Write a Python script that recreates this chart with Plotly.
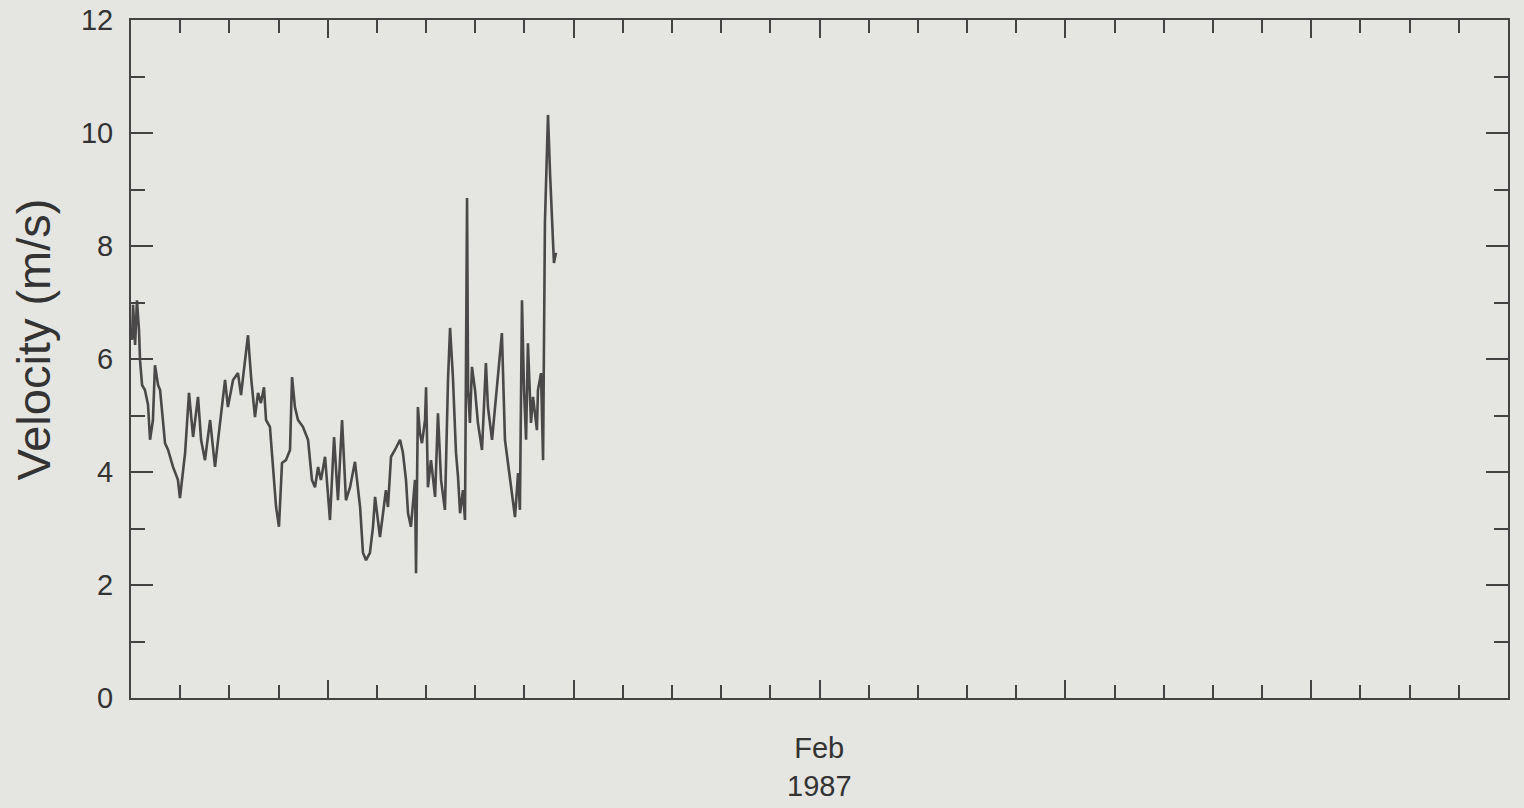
import plotly.graph_objects as go
import pandas as pd

# hours after 1987-02-01 00:00
hours = [0.0, 0.5, 1.0, 2.0, 2.9, 3.9, 4.4, 5.4, 6.8, 8.3, 9.3, 10.7, 11.7, 13.2, 14.2, 16.6, 18.1,
         20.5, 22.9, 23.9, 26.4, 28.3, 30.3, 32.7, 34.2, 36.1, 38.6, 41.0, 42.5, 45.9, 47.3, 49.8,
         52.2, 53.7, 54.7, 57.1, 58.6, 60.5, 62.0, 63.4, 64.9, 65.9, 67.8, 69.3, 70.8, 72.2, 73.7,
         75.6, 77.6, 78.6, 80.0, 81.5, 83.9, 86.4, 88.3, 89.8, 91.3, 92.7, 94.7, 97.1, 99.1, 101.0,
         103.0, 104.9, 106.9, 109.3, 111.8, 113.2, 114.7, 116.6, 118.1, 119.1, 120.5, 121.5, 123.0,
         124.4, 125.4, 126.9, 128.8, 131.3, 132.7, 134.2, 135.2, 136.6, 138.6, 139.1, 140.0, 141.0,
         142.0, 143.5, 144.0, 144.9, 146.4, 148.4, 149.8, 151.3, 153.2, 154.7, 155.7, 157.1, 158.6,
         159.6, 160.6, 162.0, 163.0, 164.0, 164.5, 165.4, 166.4, 167.9, 169.3, 171.3, 173.2, 174.2,
         176.2, 178.6, 181.0, 182.5, 184.0, 185.9, 187.4, 188.9, 189.8, 190.8, 191.8, 192.8, 193.7,
         195.2, 196.2, 198.1, 198.6, 200.1, 201.1, 202.0, 203.5, 204.5, 205.5, 206.4, 207.4]
velocity = [6.5, 6.34, 6.96, 6.25, 7.04, 6.51, 5.98, 5.54, 5.45, 5.19, 4.57, 4.92, 5.89, 5.54, 5.45, 4.51, 4.39,
            4.09, 3.86, 3.54, 4.34, 5.40, 4.62, 5.33, 4.57, 4.21, 4.92, 4.09, 4.57, 5.63, 5.15, 5.63,
            5.75, 5.36, 5.68, 6.42, 5.68, 4.97, 5.40, 5.22, 5.50, 4.92, 4.80, 4.04, 3.38, 3.03, 4.16,
            4.21, 4.39, 5.68, 5.15, 4.92, 4.80, 4.57, 3.86, 3.73, 4.09, 3.86, 4.27, 3.15, 4.62, 3.50,
            4.92, 3.50, 3.73, 4.18, 3.38, 2.57, 2.44, 2.57, 3.03, 3.56, 3.15, 2.85, 3.27,
            3.68, 3.38, 4.27, 4.39, 4.57, 4.34, 3.86, 3.27, 3.03, 3.86, 2.21, 5.15, 4.69,
            4.51, 4.92, 5.50, 3.73, 4.21, 3.56, 5.04, 3.86, 3.33, 5.63, 6.55, 5.68, 4.34,
            3.91, 3.27, 3.68, 3.15, 8.85, 5.45, 4.87, 5.86, 5.45, 4.87, 4.39, 5.93, 5.15,
            4.57, 5.45, 6.46, 4.57, 4.16, 3.68, 3.20, 3.98, 3.33, 7.04, 5.45, 4.57, 6.28,
            4.87, 5.33, 4.74, 5.45, 5.75, 4.21, 8.41, 10.32, 9.29, 8.51, 7.70, 7.88]

start = pd.Timestamp("1987-02-01")
times = [start + pd.Timedelta(hours=h) for h in hours]

y_ticks = [0, 2, 4, 6, 8, 10, 12]
month_label = "Feb<br>1987"
y_title = "Velocity (m/s)"

ink = "#444242"
bg = "#e5e6e1"
font_family = "Liberation Sans, Arial, sans-serif"

fig = go.Figure()
fig.add_trace(go.Scatter(x=times, y=velocity, mode="lines",
                         line=dict(color="#4a4848", width=2.6), showlegend=False,
                         hoverinfo="skip"))

fig.update_layout(
    width=1524, height=808,
    margin=dict(l=131, r=16, t=20, b=110, autoexpand=False),
    paper_bgcolor=bg, plot_bgcolor=bg,
    font=dict(family=font_family, color="#333333"),
    showlegend=False,
)

fig.update_xaxes(
    type="date",
    range=["1987-02-01", "1987-03-01"],
    automargin=False,
    showgrid=False, zeroline=False,
    showline=True, linecolor=ink, linewidth=2, mirror="ticks",
    ticks="inside", ticklen=18, tickwidth=2, tickcolor=ink,
    tick0="1987-02-05", dtick=5 * 86400000,
    showticklabels=False,
    minor=dict(ticks="inside", ticklen=13, tickwidth=2, tickcolor=ink,
               dtick=86400000, tick0="1987-02-01", showgrid=False),
)

fig.update_yaxes(
    range=[0, 12],
    automargin=False,
    tickvals=y_ticks, ticktext=[str(v) for v in y_ticks],
    showgrid=False, zeroline=False,
    showline=True, linecolor=ink, linewidth=2, mirror="ticks",
    ticks="inside", ticklen=22, tickwidth=2, tickcolor=ink,
    tickfont=dict(size=29, color="#333333", family=font_family),
    ticklabelstandoff=10,
    minor=dict(ticks="inside", ticklen=14, tickwidth=2, tickcolor=ink,
               dtick=1, tick0=0, showgrid=False),
)

fig.add_annotation(
    x=-0.0715, y=0.528, xref="paper", yref="paper",
    xanchor="center", yanchor="middle",
    text=y_title, textangle=-90, showarrow=False,
    font=dict(size=47, color="#333333", family=font_family),
)

fig.add_annotation(
    x="1987-02-15", y=0, xref="x", yref="paper",
    yshift=-32, yanchor="top",
    text=month_label, showarrow=False,
    font=dict(size=29, color="#333333", family=font_family),
    align="center",
)

fig.write_html(
    "out.html",
    config={"displayModeBar": False},
    post_script="document.body.style.margin='0';document.body.style.background='#e5e6e1';",
)
